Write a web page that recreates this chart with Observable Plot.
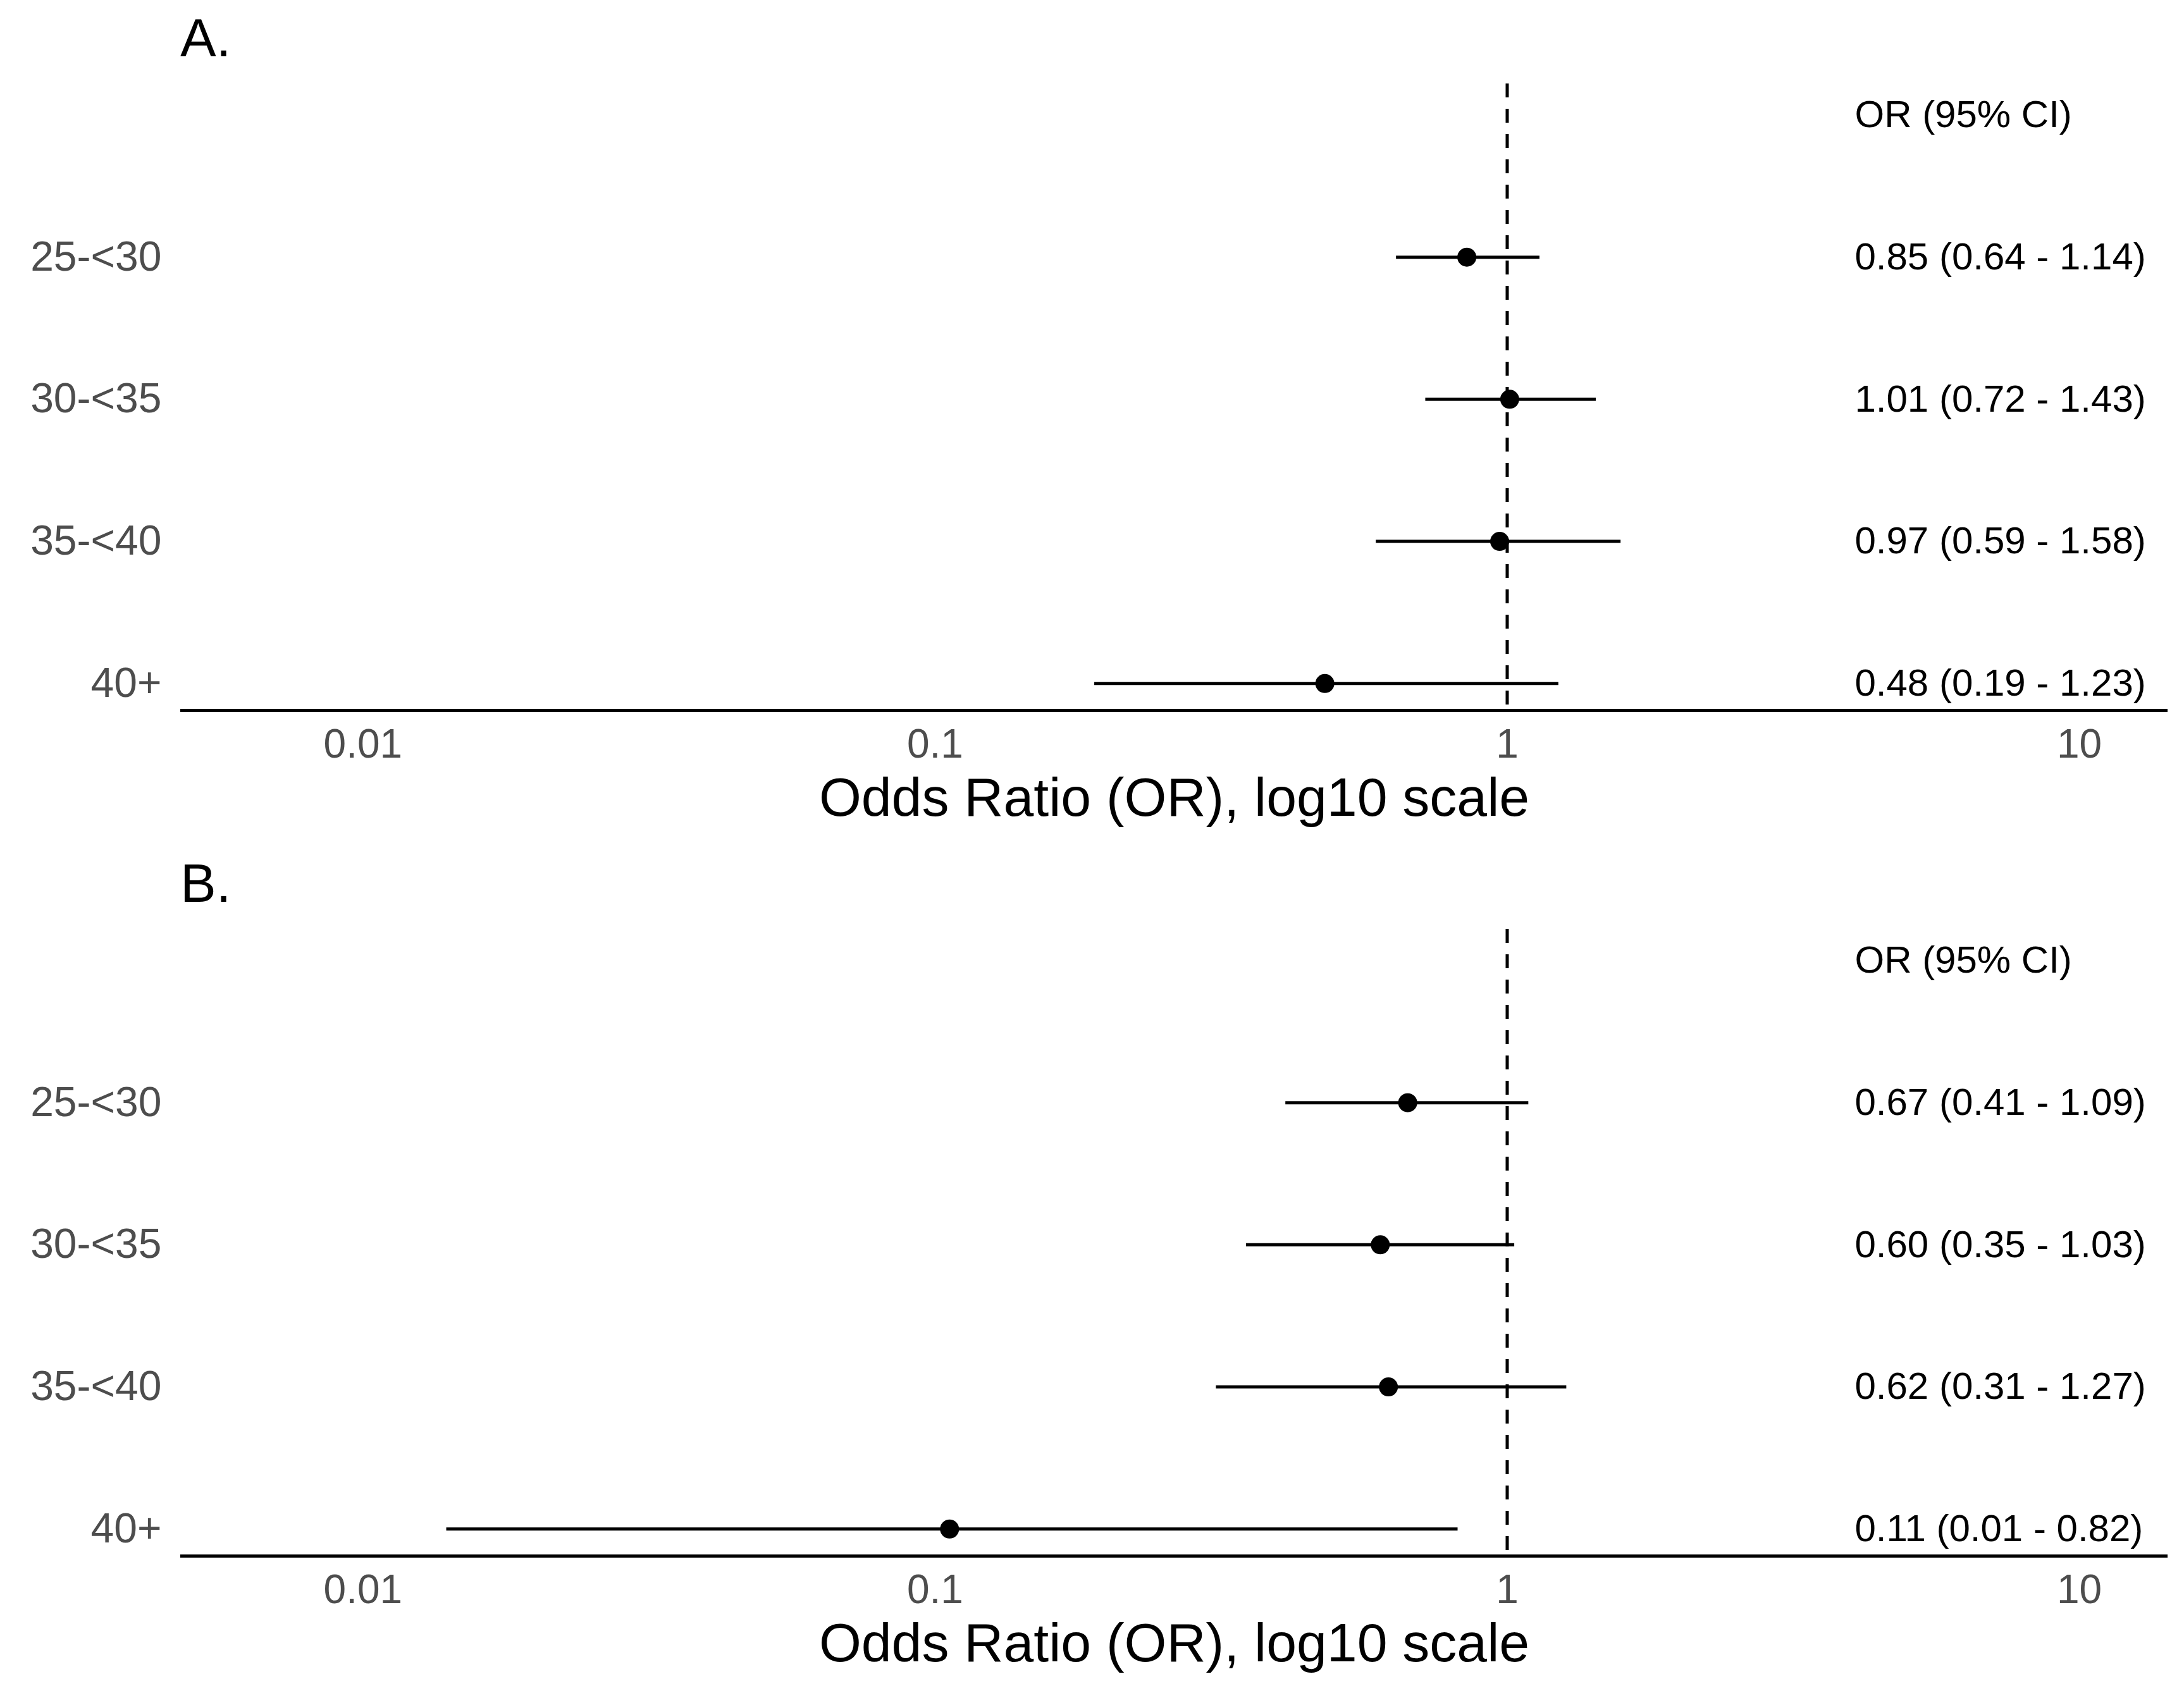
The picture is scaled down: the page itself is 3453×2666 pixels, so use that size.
<!DOCTYPE html>
<html>
<head>
<meta charset="utf-8">
<script src="https://cdn.jsdelivr.net/npm/d3@7"></script>
<script src="https://cdn.jsdelivr.net/npm/@observablehq/plot@0.6"></script>
<style>
  html, body { margin: 0; padding: 0; background: #fff; }
  body { width: 3453px; height: 2666px; overflow: hidden; font-family: "Liberation Sans", Arial, sans-serif; }
  .block { position: relative; width: 3453px; }
  .ttl { position: relative; height: 110px; }
  .ttl span { position: absolute; left: 285px; top: 17px; font-size: 85px; line-height: 85px; color: #000; }
  svg { display: block; }
</style>
</head>
<body>
<div id="root"></div>
<script>
// ---- data ----
const ageGroups = ["25-<30", "30-<35", "35-<40", "40+"];
const headerLabel = "OR (95% CI)";
const xTicks = [0.01, 0.1, 1, 10];
const xTitle = "Odds Ratio (OR), log10 scale";

const panelTitles = ["A.", "B."];

const orA = [0.85, 1.01, 0.97, 0.48];
const loA = [0.64, 0.72, 0.59, 0.19];
const hiA = [1.14, 1.43, 1.58, 1.23];
const labelsA = ["0.85 (0.64 - 1.14)", "1.01 (0.72 - 1.43)", "0.97 (0.59 - 1.58)", "0.48 (0.19 - 1.23)"];

const orB = [0.67, 0.60, 0.62, 0.106];
const loB = [0.41, 0.35, 0.31, 0.014];
const hiB = [1.09, 1.03, 1.27, 0.82];
const labelsB = ["0.67 (0.41 - 1.09)", "0.60 (0.35 - 1.03)", "0.62 (0.31 - 1.27)", "0.11 (0.01 - 0.82)"];

// ---- layout ----
const W = 3453;
const FONT = "'Liberation Sans', Arial, sans-serif";
const yDomain = [4.19, -0.22];
const xDomain = [0.0048, 14.28];
const textX = 4.05;

function panel(title, or, lo, hi, labels, svgHeight, marginBottom) {
  const rows = ageGroups.map((g, i) => ({row: i + 1, group: g, or: or[i], lo: lo[i], hi: hi[i], label: labels[i]}));
  const block = document.createElement("div");
  block.className = "block";
  const t = document.createElement("div");
  t.className = "ttl";
  const s = document.createElement("span");
  s.textContent = title;
  t.appendChild(s);
  block.appendChild(t);

  const chart = Plot.plot({
    width: W,
    height: svgHeight,
    marginTop: 22,
    marginBottom,
    marginLeft: 285,
    marginRight: 26,
    style: {fontFamily: FONT, background: "#fff", overflow: "visible"},
    x: {type: "log", domain: xDomain},
    y: {type: "linear", domain: yDomain},
    marks: [
      Plot.ruleX([1], {stroke: "#000", strokeWidth: 5, strokeDasharray: "22,18"}),
      Plot.ruleY([yDomain[0]], {stroke: "#000", strokeWidth: 5}),
      Plot.ruleY(rows, {y: "row", x1: "lo", x2: "hi", stroke: "#000", strokeWidth: 5}),
      Plot.dot(rows, {x: "or", y: "row", r: 15, fill: "#000", stroke: null}),
      Plot.text(rows, {x: () => textX, y: "row", text: "label", textAnchor: "start", fontSize: 60, fill: "#000"}),
      Plot.text([headerLabel], {x: () => textX, y: () => 0, text: d => d, textAnchor: "start", fontSize: 60, fill: "#000"}),
      Plot.axisY({ticks: [1, 2, 3, 4], tickFormat: i => ageGroups[i - 1], tickSize: 0, tickPadding: 30, fontSize: 66, color: "#4d4d4d", label: null}),
      Plot.axisX({ticks: xTicks, tickFormat: d => String(d), tickSize: 0, tickPadding: 29, fontSize: 64, color: "#4d4d4d", label: null}),
      Plot.text([xTitle], {frameAnchor: "bottom", text: d => d, lineAnchor: "top", dy: 105, fontSize: 86, fill: "#000"})
    ]
  });
  block.appendChild(chart);
  return block;
}

const root = document.getElementById("root");
root.appendChild(panel(panelTitles[0], orA, loA, hiA, labelsA, 1227, 214));
root.appendChild(panel(panelTitles[1], orB, loB, hiB, labelsB, 1219, 206));
</script>
</body>
</html>
